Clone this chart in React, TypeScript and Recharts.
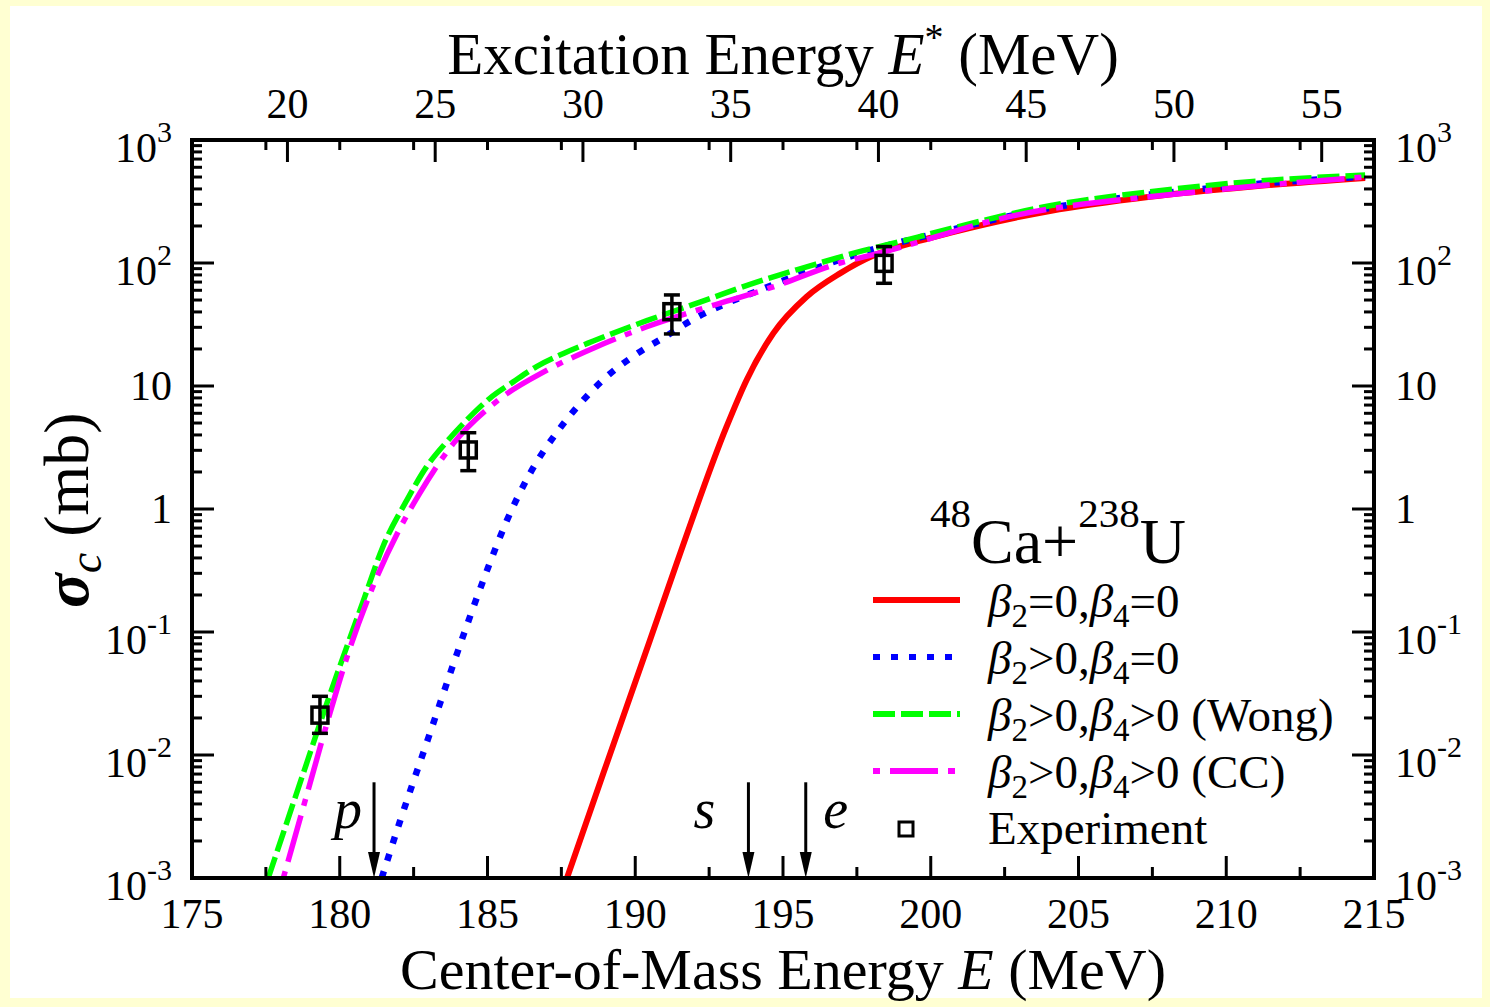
import React from 'react';
import { ComposedChart, Line, Scatter, ErrorBar, XAxis, YAxis, ReferenceLine, Legend } from 'recharts';

const FONT = "'Liberation Serif', 'Times New Roman', serif";

// beta2=0, beta4=0 (red, solid)
const sphericalE = [187.69, 188.92, 190.5, 191.4, 193.09, 193.77, 194.67, 195.8, 196.93, 198.06, 199.64, 200.65, 204.03, 207.42, 210.8, 214.7];
const sphericalSigma = [0.001, 0.0071, 0.086, 0.36, 4.67, 11.2, 26.8, 53.2, 82.4, 115, 152, 176, 265, 346, 417, 491];

// beta2>0, beta4=0 (blue, dotted)
const quadE = [181.42, 182.04, 183.0, 183.96, 184.99, 185.65, 186.44, 187.45, 188.19, 189.03, 190.0, 191.01, 192.02, 193.09, 194.22, 195.35, 197.61, 200.65, 204.03, 207.42, 210.8, 214.7];
const quadSigma = [0.001, 0.0029, 0.0138, 0.066, 0.32, 0.8, 1.95, 4.53, 7.45, 11.9, 17.9, 25.2, 35.5, 47, 60.3, 77.4, 120, 185, 280, 360, 435, 505];

// beta2>0, beta4>0 (Wong) (green, dashed)
const wongE = [177.58, 178.6, 179.58, 180.8, 181.47, 182.27, 182.94, 183.62, 184.3, 185.08, 185.87, 186.66, 187.57, 188.58, 190.39, 192.19, 194.11, 195.8, 197.49, 199.19, 200.65, 204.03, 207.42, 210.8, 214.7];
const wongSigma = [0.001, 0.0054, 0.027, 0.18, 0.5, 1.18, 2.21, 3.52, 5.3, 7.95, 10.8, 14.4, 18.4, 23.2, 34, 48, 70, 93, 122, 154, 190, 292, 380, 458, 519];

// beta2>0, beta4>0 (CC) (magenta, dash-dot)
const ccE = [178.09, 178.88, 179.67, 180.24, 181.14, 182.04, 182.72, 183.84, 185.31, 187.0, 188.58, 190.39, 192.19, 194.67, 196.93, 198.06, 202.9, 208.55, 214.7];
const ccSigma = [0.001, 0.0047, 0.022, 0.062, 0.24, 0.7, 1.36, 3.4, 7.5, 13.4, 20.3, 30.3, 42, 64, 100, 117, 245, 369, 500];

// experiment
const expE = [179.33, 184.35, 191.24, 198.42];
const expSigma = [0.0211, 3.02, 40.2, 99.3];
const expErrLow = [0.0061, 0.97, 13.7, 30.9];
const expErrHigh = [0.0089, 1.15, 14.8, 36.7];

// barrier arrows
const barrierE = [181.16, 193.83, 195.77];
const barrierNames = ['p', 's', 'e'];
const ARROW_TOP_SIGMA = 0.006;
const barrierLabelDx = [-26, -44, 30];

// axes
const energyTicks = [175, 177.5, 180, 182.5, 185, 187.5, 190, 192.5, 195, 197.5, 200, 202.5, 205, 207.5, 210, 212.5, 215];
const excitationTicks = [20, 25, 30, 35, 40, 45, 50, 55];
const Q_SHIFT = 158.23; // E = E* + Q_SHIFT
const decadeExps = [-3, -2, -1, 0, 1, 2, 3];
const minorMult = [2, 3, 4, 5, 6, 7, 8, 9];

const sigmaTicks: number[] = [];
decadeExps.forEach((p) => {
  sigmaTicks.push(Math.pow(10, p));
  if (p < 3) minorMult.forEach((m) => sigmaTicks.push(m * Math.pow(10, p)));
});
const excitationInE = excitationTicks.map((t) => t + Q_SHIFT);
const topTicks = [...energyTicks, ...excitationInE].sort((a, b) => a - b);

const zip = (xs: number[], ys: number[]) => xs.map((e, i) => ({ e, s: ys[i] }));
const expData = expE.map((e, i) => ({ e, s: expSigma[i], err: [expErrLow[i], expErrHigh[i]] }));

const SERIES = [
  { name: 'sph', data: zip(sphericalE, sphericalSigma), color: '#ff0000', width: 6, dash: undefined as string | undefined, b2: '=0', b4: '=0', tail: '' },
  { name: 'quad', data: zip(quadE, quadSigma), color: '#0000ff', width: 6.5, dash: '7 11', b2: '>0', b4: '=0', tail: '' },
  { name: 'wong', data: zip(wongE, wongSigma), color: '#00ff00', width: 5.5, dash: '22 6', b2: '>0', b4: '>0', tail: ' (Wong)' },
  { name: 'cc', data: zip(ccE, ccSigma), color: '#ff00ff', width: 5.5, dash: '7 10 48 10', b2: '>0', b4: '>0', tail: ' (CC)' },
];

const isDecade = (v: number) => Math.abs(Math.log10(v) - Math.round(Math.log10(v))) < 1e-9;

function DecadeLabel({ x, y, v, anchor }: { x: number; y: number; v: number; anchor: 'start' | 'end' }) {
  const p = Math.round(Math.log10(v));
  if (p === 0 || p === 1) {
    return (
      <text x={x} y={y + 14} textAnchor={anchor} fontSize={42} fontFamily={FONT}>
        {p === 0 ? '1' : '10'}
      </text>
    );
  }
  return (
    <text x={x} y={y + 22} textAnchor={anchor} fontSize={42} fontFamily={FONT}>
      10
      <tspan fontSize={30} dy={-20}>{String(p)}</tspan>
    </text>
  );
}

function LeftTick({ x, y, payload }: any) {
  const v = payload.value;
  const major = isDecade(v);
  return (
    <g>
      <line x1={x} x2={x + (major ? 22 : 10)} y1={y} y2={y} stroke="#000" strokeWidth={3} />
      {major && <DecadeLabel x={x - 20} y={y} v={v} anchor="end" />}
    </g>
  );
}

function RightTick({ x, y, payload }: any) {
  const v = payload.value;
  const major = isDecade(v);
  return (
    <g>
      <line x1={x} x2={x - (major ? 22 : 10)} y1={y} y2={y} stroke="#000" strokeWidth={3} />
      {major && <DecadeLabel x={x + 21} y={y} v={v} anchor="start" />}
    </g>
  );
}

function BottomTick({ x, y, payload }: any) {
  const v = payload.value;
  const major = Math.abs(v % 5) < 1e-6;
  return (
    <g>
      <line x1={x} x2={x} y1={y} y2={y - (major ? 22 : 11)} stroke="#000" strokeWidth={3} />
      {major && (
        <text x={x} y={y + 50} textAnchor="middle" fontSize={42} fontFamily={FONT}>
          {v}
        </text>
      )}
    </g>
  );
}

function TopTick({ x, y, payload }: any) {
  const v = payload.value;
  const idx = excitationInE.findIndex((t) => Math.abs(t - v) < 1e-6);
  const isEx = idx >= 0;
  return (
    <g>
      <line x1={x} x2={x} y1={y} y2={y + (isEx ? 22 : 10)} stroke="#000" strokeWidth={3} />
      {isEx && (
        <text x={x} y={y - 22} textAnchor="middle" fontSize={42} fontFamily={FONT}>
          {excitationTicks[idx]}
        </text>
      )}
    </g>
  );
}

function BetaLabel({ b2, b4, tail, x, y }: { b2: string; b4: string; tail: string; x: number; y: number }) {
  return (
    <text x={x} y={y} fontSize={47} fontFamily={FONT}>
      <tspan fontStyle="italic">β</tspan>
      <tspan fontSize={33} dy={10}>2</tspan>
      <tspan dy={-10}>{b2},</tspan>
      <tspan fontStyle="italic">β</tspan>
      <tspan fontSize={33} dy={10}>4</tspan>
      <tspan dy={-10}>{b4 + tail}</tspan>
    </text>
  );
}

const renderLegend = () => (
  <svg width={520} height={380} style={{ overflow: 'visible' }}>
    <text x={70} y={83} fontSize={64} fontFamily={FONT}>
      <tspan fontSize={41} dy={-36}>48</tspan>
      <tspan dy={36}>Ca+</tspan>
      <tspan fontSize={41} dy={-36}>238</tspan>
      <tspan dy={36}>U</tspan>
    </text>
    {SERIES.map((s, i) => (
      <g key={s.name}>
        <line x1={13} x2={100} y1={120 + i * 57} y2={120 + i * 57} stroke={s.color} strokeWidth={6} strokeDasharray={s.dash} />
        <BetaLabel b2={s.b2} b4={s.b4} tail={s.tail} x={128} y={137 + i * 57} />
      </g>
    ))}
    <rect x={39} y={342} width={14} height={14} fill="none" stroke="#000" strokeWidth={3} />
    <text x={128} y={364} fontSize={47} fontFamily={FONT}>Experiment</text>
  </svg>
);

function BarrierArrow(props: any) {
  const { x1, y1, y2, idx } = props;
  return (
    <g>
      <line x1={x1} x2={x1} y1={y1} y2={y2 - 18} stroke="#000" strokeWidth={3} />
      <polygon points={`${x1 - 6},${y2 - 26} ${x1 + 6},${y2 - 26} ${x1},${y2}`} fill="#000" />
      <text x={x1 + barrierLabelDx[idx]} y={828} textAnchor="middle" fontSize={56} fontStyle="italic" fontFamily={FONT}>
        {barrierNames[idx]}
      </text>
    </g>
  );
}

export default function App() {
  const axisLine = { stroke: '#000', strokeWidth: 4, strokeLinecap: 'square' as const };
  return (
    <div style={{ position: 'absolute', left: 0, top: 0, width: 1490, height: 1007, background: '#ffffd2' }}>
      <div style={{ position: 'absolute', left: 10, top: 6, width: 1472, height: 992, background: '#ffffff' }} />
      <div style={{ position: 'absolute', left: 0, top: 0 }}>
        <ComposedChart width={1490} height={1007} margin={{ top: 139, right: 115, bottom: 128, left: 191 }}>
          <XAxis
            dataKey="e"
            type="number"
            domain={[175, 215]}
            allowDataOverflow
            ticks={energyTicks}
            interval={0}
            height={1}
            tickSize={0}
            tickMargin={0}
            tickLine={false}
            axisLine={axisLine}
            tick={(p: any) => <BottomTick {...p} />}
          />
          <XAxis
            xAxisId="top"
            orientation="top"
            dataKey="e"
            type="number"
            domain={[175, 215]}
            allowDataOverflow
            ticks={topTicks}
            interval={0}
            height={1}
            tickSize={0}
            tickMargin={0}
            tickLine={false}
            axisLine={axisLine}
            tick={(p: any) => <TopTick {...p} />}
          />
          <YAxis
            type="number"
            scale="log"
            domain={[0.001, 1000]}
            allowDataOverflow
            ticks={sigmaTicks}
            interval={0}
            width={1}
            tickSize={0}
            tickMargin={0}
            tickLine={false}
            axisLine={axisLine}
            tick={(p: any) => <LeftTick {...p} />}
          />
          <YAxis
            yAxisId="right"
            orientation="right"
            type="number"
            scale="log"
            domain={[0.001, 1000]}
            allowDataOverflow
            ticks={sigmaTicks}
            interval={0}
            width={1}
            tickSize={0}
            tickMargin={0}
            tickLine={false}
            axisLine={axisLine}
            tick={(p: any) => <RightTick {...p} />}
          />
          {SERIES.map((s) => (
            <Line
              key={s.name}
              data={s.data}
              dataKey="s"
              type="monotone"
              stroke={s.color}
              strokeWidth={s.width}
              strokeDasharray={s.dash}
              dot={false}
              activeDot={false}
              isAnimationActive={false}
            />
          ))}
          {barrierE.map((e, i) => (
            <ReferenceLine
              key={barrierNames[i]}
              segment={[{ x: e, y: ARROW_TOP_SIGMA }, { x: e, y: 0.001 }]}
              ifOverflow="visible"
              shape={(p: any) => <BarrierArrow {...p} idx={i} />}
            />
          ))}
          <Scatter
            data={expData}
            dataKey="s"
            isAnimationActive={false}
            shape={(p: any) => (
              <rect x={p.cx - 8} y={p.cy - 8} width={16} height={16} fill="none" stroke="#000" strokeWidth={3.5} />
            )}
          >
            <ErrorBar dataKey="err" direction="y" width={8} stroke="#000" strokeWidth={3.5} isAnimationActive={false} />
          </Scatter>
          <Legend
            layout="vertical"
            align="center"
            verticalAlign="middle"
            content={renderLegend}
            wrapperStyle={{ position: 'absolute', left: 860, top: 480, width: 520, height: 380 }}
          />
        </ComposedChart>
      </div>
      <svg width={1490} height={1007} style={{ position: 'absolute', left: 0, top: 0, pointerEvents: 'none' }}>
        <text x={783} y={74} textAnchor="middle" fontSize={59} fontFamily={FONT}>
          Excitation Energy <tspan fontStyle="italic">E</tspan>
          <tspan fontSize={38} dy={-24}>*</tspan>
          <tspan dy={24}> (MeV)</tspan>
        </text>
        <text x={783} y={989} textAnchor="middle" fontSize={58} fontFamily={FONT}>
          Center-of-Mass Energy <tspan fontStyle="italic">E</tspan> (MeV)
        </text>
        <text x={88} y={510} textAnchor="middle" fontSize={64} fontFamily={FONT} transform="rotate(-90, 88, 510)">
          <tspan fontStyle="italic" fontWeight="bold">σ</tspan>
          <tspan fontStyle="italic" fontSize={46} dy={13}>c</tspan>
          <tspan dy={-13}> (mb)</tspan>
        </text>
      </svg>
    </div>
  );
}
